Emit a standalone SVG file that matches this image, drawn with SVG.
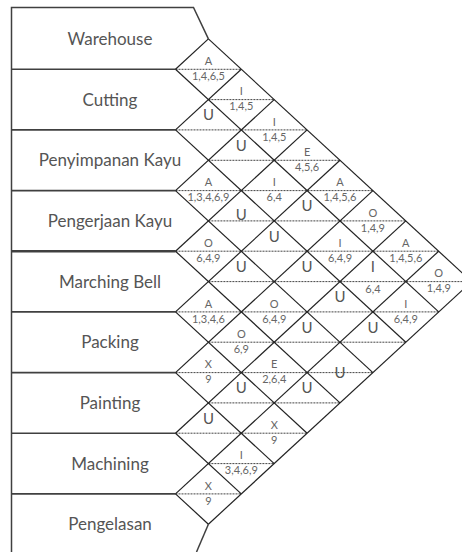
<svg xmlns="http://www.w3.org/2000/svg" width="462" height="552" viewBox="0 0 462 552">
<style>
.bg{fill:#ffffff}
.box{fill:none;stroke:#404040;stroke-width:1.5}
.row{stroke:#404040;stroke-width:1.6}
.grid{fill:none;stroke:#222222;stroke-width:1.2}
.dash{stroke:#444444;stroke-width:1;stroke-dasharray:2 1}
.lbl{font-family:Lato,"Liberation Sans",sans-serif;font-size:17px;fill:#555555;text-anchor:middle}
.c{font-family:Lato,"Liberation Sans",sans-serif;font-size:11px;fill:#666666;text-anchor:middle}
.n{font-family:Lato,"Liberation Sans",sans-serif;font-size:11px;fill:#666666;text-anchor:middle}
.u{font-family:Lato,"Liberation Sans",sans-serif;font-size:15px;fill:#555555;text-anchor:middle}
</style>
<rect class="bg" x="0" y="0" width="462" height="552"/>
<g id="frame">
<path class="box" d="M11.5 552 V7.5 H193.5 L208.4 38.9"/>
<path class="box" d="M208.4 524.2 L196.5 552"/>
<g class="row">
<line x1="11.5" y1="69.3" x2="175.5" y2="69.3"/>
<line x1="11.5" y1="129.9" x2="175.5" y2="129.9"/>
<line x1="11.5" y1="190.6" x2="175.5" y2="190.6"/>
<line x1="11.5" y1="251.2" x2="175.5" y2="251.2" style="stroke-width:2.4"/>
<line x1="11.5" y1="311.9" x2="175.5" y2="311.9"/>
<line x1="11.5" y1="372.6" x2="175.5" y2="372.6"/>
<line x1="11.5" y1="433.2" x2="175.5" y2="433.2"/>
<line x1="11.5" y1="493.9" x2="175.5" y2="493.9"/>
</g>
</g>
<g id="connectors">
<g class="dash">
<line x1="175.5" y1="69.3" x2="241.3" y2="69.3"/>
<line x1="208.4" y1="99.6" x2="274.2" y2="99.6"/>
<line x1="175.5" y1="129.9" x2="307.1" y2="129.9"/>
<line x1="208.4" y1="160.3" x2="340" y2="160.3"/>
<line x1="175.5" y1="190.6" x2="372.9" y2="190.6"/>
<line x1="208.4" y1="220.9" x2="405.8" y2="220.9"/>
<line x1="175.5" y1="251.2" x2="438.7" y2="251.2"/>
<line x1="208.4" y1="281.6" x2="471.6" y2="281.6"/>
<line x1="175.5" y1="311.9" x2="438.7" y2="311.9"/>
<line x1="208.4" y1="342.2" x2="405.8" y2="342.2"/>
<line x1="175.5" y1="372.6" x2="372.9" y2="372.6"/>
<line x1="208.4" y1="402.9" x2="340" y2="402.9"/>
<line x1="175.5" y1="433.2" x2="307.1" y2="433.2"/>
<line x1="208.4" y1="463.6" x2="274.2" y2="463.6"/>
<line x1="175.5" y1="493.9" x2="241.3" y2="493.9"/>
</g>
<g class="grid">
<line x1="208.4" y1="38.9" x2="471.6" y2="281.6"/>
<line x1="175.5" y1="69.3" x2="438.7" y2="311.9"/>
<line x1="175.5" y1="129.9" x2="405.8" y2="342.2"/>
<line x1="175.5" y1="190.6" x2="372.9" y2="372.6"/>
<line x1="175.5" y1="251.2" x2="340" y2="402.9"/>
<line x1="175.5" y1="311.9" x2="307.1" y2="433.2"/>
<line x1="175.5" y1="372.6" x2="274.2" y2="463.6"/>
<line x1="175.5" y1="433.2" x2="241.3" y2="493.9"/>
<line x1="175.5" y1="493.9" x2="208.4" y2="524.2"/>
<line x1="175.5" y1="69.3" x2="208.4" y2="38.9"/>
<line x1="175.5" y1="129.9" x2="241.3" y2="69.3"/>
<line x1="175.5" y1="190.6" x2="274.2" y2="99.6"/>
<line x1="175.5" y1="251.2" x2="307.1" y2="129.9"/>
<line x1="175.5" y1="311.9" x2="340" y2="160.3"/>
<line x1="175.5" y1="372.6" x2="372.9" y2="190.6"/>
<line x1="175.5" y1="433.2" x2="405.8" y2="220.9"/>
<line x1="175.5" y1="493.9" x2="438.7" y2="251.2"/>
<line x1="208.4" y1="524.2" x2="471.6" y2="281.6"/>
</g>
</g>
<g id="departments">
<g id="dept-warehouse"><text class="lbl" x="110" y="45">Warehouse</text></g>
<g id="dept-cutting"><text class="lbl" x="110" y="105.6">Cutting</text></g>
<g id="dept-penyimpanan"><text class="lbl" x="110" y="166.3">Penyimpanan Kayu</text></g>
<g id="dept-pengerjaan"><text class="lbl" x="110" y="226.9">Pengerjaan Kayu</text></g>
<g id="dept-marching"><text class="lbl" x="110" y="287.6">Marching Bell</text></g>
<g id="dept-packing"><text class="lbl" x="110" y="348.2">Packing</text></g>
<g id="dept-painting"><text class="lbl" x="110" y="408.9">Painting</text></g>
<g id="dept-machining"><text class="lbl" x="110" y="469.6">Machining</text></g>
<g id="dept-pengelasan"><text class="lbl" x="110" y="530.2">Pengelasan</text></g>
</g>
<g id="relations">
<g id="r-0-1"><text class="c" x="208.4" y="65">A</text><text class="n" x="208.4" y="80">1,4,6,5</text></g>
<g id="r-1-2"><text class="u" x="208.4" y="120.2">U</text></g>
<g id="r-2-3"><text class="c" x="208.4" y="186.3">A</text><text class="n" x="208.4" y="201.3">1,3,4,6,9</text></g>
<g id="r-3-4"><text class="c" x="208.4" y="246.9">O</text><text class="n" x="208.4" y="261.9">6,4,9</text></g>
<g id="r-4-5"><text class="c" x="208.4" y="307.6">A</text><text class="n" x="208.4" y="322.6">1,3,4,6</text></g>
<g id="r-5-6"><text class="c" x="208.4" y="368.3">X</text><text class="n" x="208.4" y="383.3">9</text></g>
<g id="r-6-7"><text class="u" x="208.4" y="423.5">U</text></g>
<g id="r-7-8"><text class="c" x="208.4" y="489.6">X</text><text class="n" x="208.4" y="504.6">9</text></g>
<g id="r-0-2"><text class="c" x="241.3" y="95.3">I</text><text class="n" x="241.3" y="110.3">1,4,5</text></g>
<g id="r-1-3"><text class="u" x="241.3" y="150.6">U</text></g>
<g id="r-2-4"><text class="u" x="241.3" y="220.2">U</text></g>
<g id="r-3-5"><text class="u" x="241.3" y="271.9">U</text></g>
<g id="r-4-6"><text class="c" x="241.3" y="337.9">O</text><text class="n" x="241.3" y="352.9">6,9</text></g>
<g id="r-5-7"><text class="u" x="241.3" y="393.2">U</text></g>
<g id="r-6-8"><text class="c" x="241.3" y="459.3">I</text><text class="n" x="241.3" y="474.3">3,4,6,9</text></g>
<g id="r-0-3"><text class="c" x="274.2" y="125.6">I</text><text class="n" x="274.2" y="140.6">1,4,5</text></g>
<g id="r-1-4"><text class="c" x="274.2" y="186.3">I</text><text class="n" x="274.2" y="201.3">6,4</text></g>
<g id="r-2-5"><text class="u" x="274.2" y="241.5">U</text></g>
<g id="r-3-6"><text class="c" x="274.2" y="307.6">O</text><text class="n" x="274.2" y="322.6">6,4,9</text></g>
<g id="r-4-7"><text class="c" x="274.2" y="368.3">E</text><text class="n" x="274.2" y="383.3">2,6,4</text></g>
<g id="r-5-8"><text class="c" x="274.2" y="428.9">X</text><text class="n" x="274.2" y="443.9">9</text></g>
<g id="r-0-4"><text class="c" x="307.1" y="156">E</text><text class="n" x="307.1" y="171">4,5,6</text></g>
<g id="r-1-5"><text class="u" x="307.1" y="211.2">U</text></g>
<g id="r-2-6"><text class="u" x="307.1" y="271.9">U</text></g>
<g id="r-3-7"><text class="u" x="307.1" y="332.5">U</text></g>
<g id="r-4-8"><text class="u" x="307.1" y="393.2">U</text></g>
<g id="r-0-5"><text class="c" x="340" y="186.3">A</text><text class="n" x="340" y="201.3">1,4,5,6</text></g>
<g id="r-1-6"><text class="c" x="340" y="246.9">I</text><text class="n" x="340" y="261.9">6,4,9</text></g>
<g id="r-2-7"><text class="u" x="340" y="302.2">U</text></g>
<g id="r-3-8"><text class="u" x="340" y="377.6">U</text></g>
<g id="r-0-6"><text class="c" x="372.9" y="216.6">O</text><text class="n" x="372.9" y="231.6">1,4,9</text></g>
<g id="r-1-7"><text class="u" x="372.9" y="271.9">I</text><text class="n" x="372.9" y="292.6">6,4</text></g>
<g id="r-2-8"><text class="u" x="372.9" y="332.5">U</text></g>
<g id="r-0-7"><text class="c" x="405.8" y="246.9">A</text><text class="n" x="405.8" y="261.9">1,4,5,6</text></g>
<g id="r-1-8"><text class="c" x="405.8" y="307.6">I</text><text class="n" x="405.8" y="322.6">6,4,9</text></g>
<g id="r-0-8"><text class="c" x="438.7" y="277.3">O</text><text class="n" x="438.7" y="292.3">1,4,9</text></g>
</g>
</svg>
